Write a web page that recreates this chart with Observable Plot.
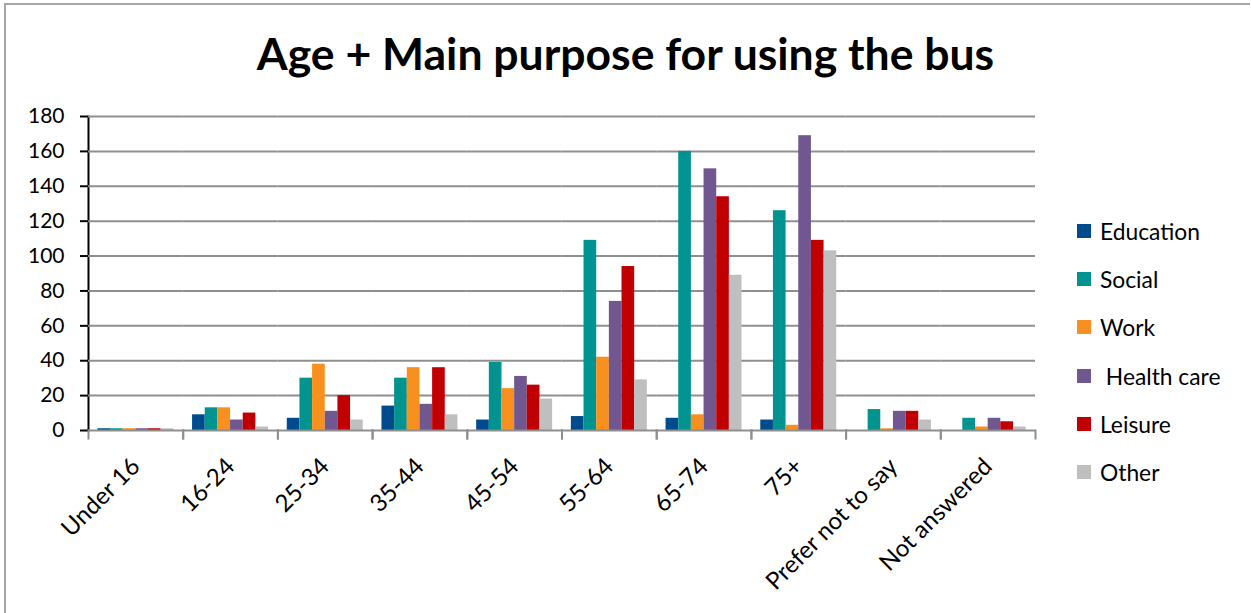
<!DOCTYPE html>
<html>
<head>
<meta charset="utf-8">
<script src="https://cdn.jsdelivr.net/npm/d3@7"></script>
<script src="https://cdn.jsdelivr.net/npm/@observablehq/plot@0.6"></script>
<style>
  html, body { margin: 0; padding: 0; background: #fff; overflow: hidden; }
  #chart { position: relative; width: 1251px; height: 613px; font-family: Lato, "DejaVu Sans", sans-serif; }
  #border { position: absolute; left: 4px; top: 3px; width: 1244px; height: 608px;
            border-left: 2px solid #a6a6a6; border-top: 2px solid #a6a6a6; }
  #title { position: absolute; left: 0; width: 1251px; top: 26px; text-align: center;
           font-size: 44.5px; font-weight: 700; line-height: normal; color: #000; }
  #plot { position: absolute; left: 0; top: 0; }
  #legend { position: absolute; left: 1077px; top: 217px; }
  .item { height: 48.2px; display: flex; align-items: flex-start; font-size: 22.8px; color: #000; line-height: normal; }
  .swatch { width: 14px; height: 14px; margin-top: 7px; margin-right: 9px; flex: none; }
</style>
</head>
<body>
<div id="chart">
  <div id="border"></div>
  <div id="plot"></div>
  <div id="title">Age + Main purpose for using the bus</div>
  <div id="legend"></div>
</div>
<script>
// Age bands on the category axis
const ages = ["Under 16", "16-24", "25-34", "35-44", "45-54", "55-64", "65-74", "75+", "Prefer not to say", "Not answered"];

// Purpose series (legend order)
const purposes = ["Education", "Social", "Work", " Health care", "Leisure", "Other"];
const purposeColors = ["#004b8d", "#00938f", "#f7901e", "#71578f", "#c00000", "#bfbfbf"];

// Respondent counts per age band
const education = [1, 9, 7, 14, 6, 8, 7, 6, 0, 0];
const social = [1, 13, 30, 30, 39, 109, 160, 126, 12, 7];
const work = [1, 13, 38, 36, 24, 42, 9, 3, 1, 2];
const healthCare = [1, 6, 11, 15, 31, 74, 150, 169, 11, 7];
const leisure = [1, 10, 20, 36, 26, 94, 134, 109, 11, 5];
const other = [1, 2, 6, 9, 18, 29, 89, 103, 6, 2];

const yTicks = [0, 20, 40, 60, 80, 100, 120, 140, 160, 180];

const series = [education, social, work, healthCare, leisure, other];
const rows = ages.flatMap((age, i) =>
  purposes.map((purpose, j) => ({age, purpose, value: series[j][i]}))
);

const gridColor = "#8f8f8f";
const marginTop = 116, marginBottom = 183;
const innerHeight = 613 - marginTop - marginBottom;

const chart = Plot.plot({
  width: 1251,
  height: 613,
  marginLeft: 88,
  marginRight: 216,
  marginTop,
  marginBottom,
  style: {fontFamily: "Lato, 'DejaVu Sans', sans-serif", fontSize: "21px", color: "#000", background: "transparent"},
  fx: {domain: ages, padding: 0, round: false, label: null, tickRotate: -45, tickSize: 0, tickPadding: 32},
  x: {domain: purposes, paddingInner: 0, paddingOuter: 0.74, round: false, axis: null},
  y: {domain: [0, 180], ticks: yTicks, tickSize: 8, tickPadding: 16, label: null, line: true},
  color: {domain: purposes, range: purposeColors},
  marks: [
    Plot.ruleY(yTicks.filter(d => d > 0), {stroke: gridColor, strokeWidth: 2, strokeOpacity: 1}),
    Plot.barY(rows, {fx: "age", x: "purpose", y: "value", fill: "purpose", inset: 0}),
    Plot.ruleY([0], {stroke: gridColor, strokeWidth: 2}),
    // category boundary ticks below the baseline
    Plot.frame({anchor: "left", insetTop: innerHeight, insetBottom: -8, stroke: gridColor, strokeWidth: 2}),
    Plot.frame({anchor: "right", insetTop: innerHeight, insetBottom: -8, stroke: gridColor, strokeWidth: 2})
  ]
});
chart.querySelectorAll("[aria-label='y-axis tick'], [aria-label='frame']").forEach(el => {
  el.setAttribute("stroke", gridColor);
  el.setAttribute("stroke-width", 2);
});
chart.querySelectorAll("[aria-label='fx-axis tick label']").forEach(el => {
  el.setAttribute("font-size", 24);
});
document.getElementById("plot").appendChild(chart);

// Legend
const legend = document.getElementById("legend");
purposes.forEach((p, i) => {
  const item = document.createElement("div");
  item.className = "item";
  const sw = document.createElement("div");
  sw.className = "swatch";
  sw.style.background = purposeColors[i];
  const label = document.createElement("span");
  label.textContent = p;
  label.style.whiteSpace = "pre";
  item.append(sw, label);
  legend.appendChild(item);
});
</script>
</body>
</html>
